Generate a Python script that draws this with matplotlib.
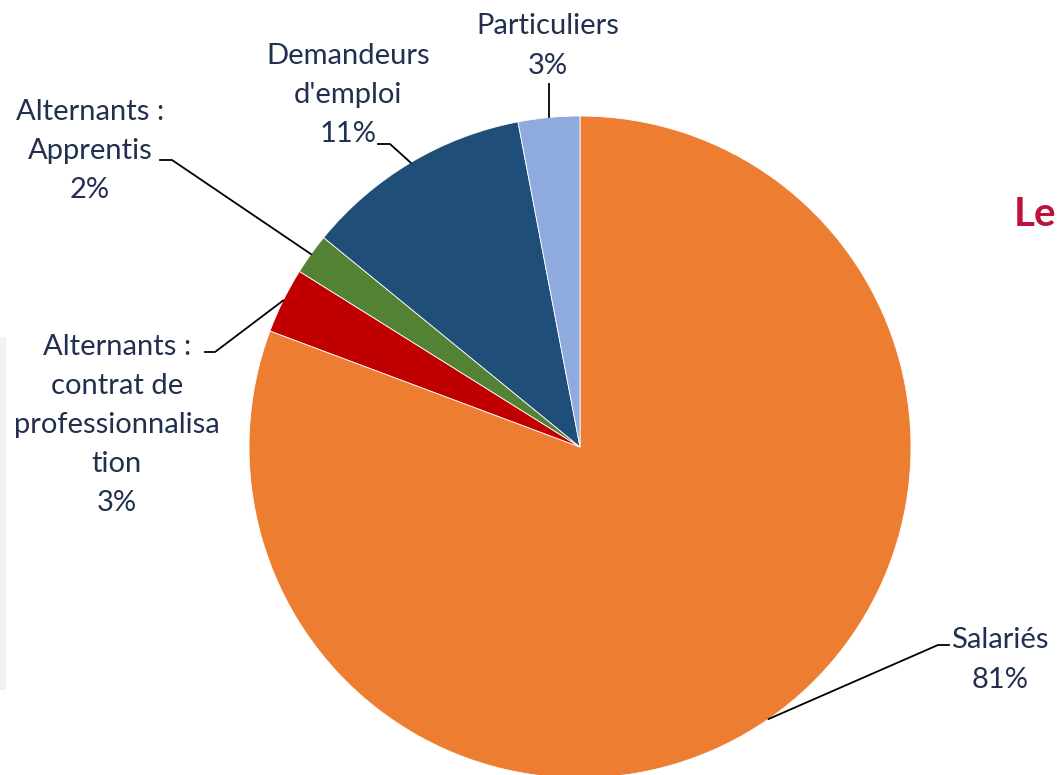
import matplotlib.pyplot as plt
from matplotlib.patches import Rectangle
import numpy as np

# slice data (clockwise from top)
categories = ["Salariés", "Alternants :\ncontrat de\nprofessionnalisa\ntion",
              "Alternants :\nApprentis", "Demandeurs\nd'emploi", "Particuliers"]
values = [80.7, 3.2, 2.0, 11.1, 3.0]
pct_labels = ["81%", "3%", "2%", "11%", "3%"]
colors = ["#ED7D31", "#C00000", "#548235", "#1F4E79", "#8FAADC"]

# label layout in pixel coords (y measured from top)
text_pos = [(1000, 660), (117, 425), (90, 151), (348, 95), (548, 46)]
elbows = [(938, 645, 949), (215, 352, 205), (172, 160, 160), (390, 144, 378), None]

W, H = 1062, 775
TXT = "#22304F"
plt.rcParams['font.family'] = ['Lato', 'DejaVu Sans']

fig = plt.figure(figsize=(W / 100, H / 100), dpi=100)
ax = fig.add_axes([0, 0, 1, 1])
ax.set_xlim(0, W)
ax.set_ylim(0, H)
ax.set_aspect('equal')
ax.axis('off')

fy = lambda y: H - y

ax.add_patch(Rectangle((0, fy(690)), 6, 353, color="#F2F2F2", lw=0))

cx, cy, r = 580, fy(447), 331
wedges, _ = ax.pie(values, colors=colors, startangle=90, counterclock=False,
                   center=(cx, cy), radius=r,
                   wedgeprops=dict(edgecolor='white', linewidth=0.6))
ax.set_xlim(0, W)
ax.set_ylim(0, H)

for i, w in enumerate(wedges):
    mid = np.deg2rad((w.theta1 + w.theta2) / 2)
    ax_, ay_ = cx + r * np.cos(mid), cy + r * np.sin(mid)
    tx, ty = text_pos[i]
    ax.text(tx, fy(ty), categories[i] + "\n" + pct_labels[i], ha='center', va='center',
            fontsize=21, color=TXT, linespacing=1.62)
    if elbows[i] is None:
        ax.plot([ax_, ax_], [ay_, fy(84)], color='black', lw=1.3)
    else:
        ex, ey, hx = elbows[i]
        ax.plot([hx, ex, ax_], [fy(ey), fy(ey), ay_], color='black', lw=1.3)

ax.text(1014, fy(215), "Le", ha='left', va='center', fontsize=29,
        fontweight='bold', color="#C0103C")

fig.savefig("out.png", dpi=100)
